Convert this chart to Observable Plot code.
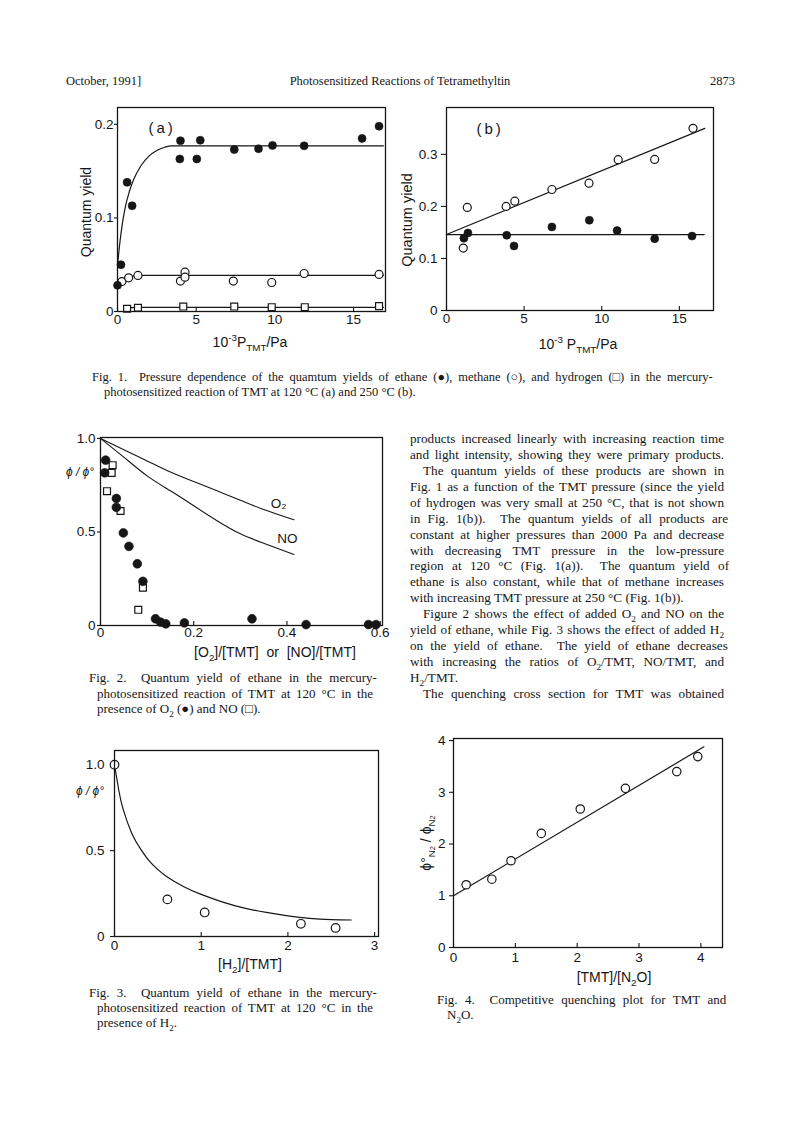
<!DOCTYPE html>
<html><head><meta charset="utf-8">
<script src="https://cdn.jsdelivr.net/npm/d3@7"></script>
<script src="https://cdn.jsdelivr.net/npm/@observablehq/plot@0.6"></script>
<style>
html,body{margin:0;padding:0;background:#fff;}
body{width:793px;height:1123px;position:relative;overflow:hidden;}
.t{position:absolute;white-space:nowrap;color:#161616;}
.serif{font-family:"Liberation Serif","DejaVu Serif",serif;}
.sans{font-family:"Liberation Sans","DejaVu Sans",sans-serif;}
sub,sup{font-size:70%;line-height:0;}
</style></head><body>
<script>
// ================= DATA =================
// Fig. 1(a)  120 °C
const f1aTicksX = [0, 5, 10, 15];
const f1aTickLabelsX = ["0", "5", "10", "15"];
const f1aTicksY = [0, 0.1, 0.2];
const f1aTickLabelsY = ["0", "0.1", "0.2"];
const f1aEthaneX = [0, 0.22, 0.61, 0.93, 3.96, 4.0, 5.04, 5.26, 7.42, 8.96, 9.85, 11.86, 15.54, 16.62];
const f1aEthaneY = [0.028, 0.050, 0.138, 0.113, 0.163, 0.1825, 0.163, 0.183, 0.173, 0.174, 0.1775, 0.177, 0.185, 0.198];
const f1aEthaneFitX = [0, 0.1, 0.25, 0.5, 0.75, 1.0, 1.5, 2.0, 2.5, 3.0, 3.42, 16.9];
const f1aEthaneFitY = [0.049, 0.066, 0.087, 0.112, 0.128, 0.140, 0.156, 0.166, 0.172, 0.1755, 0.177, 0.177];
const f1aMethaneX = [0.28, 0.71, 1.30, 4.0, 4.29, 4.29, 7.36, 9.8, 11.86, 16.62];
const f1aMethaneY = [0.032, 0.036, 0.0385, 0.0325, 0.042, 0.0367, 0.0325, 0.031, 0.0406, 0.0396];
const f1aMethaneFitX = [0.2, 0.5, 0.9, 1.3, 16.9];
const f1aMethaneFitY = [0.031, 0.035, 0.0375, 0.0385, 0.0385];
const f1aHydrogenX = [0.61, 1.3, 4.18, 7.42, 9.8, 11.9, 16.62];
const f1aHydrogenY = [0.0029, 0.004, 0.0053, 0.0053, 0.0046, 0.0046, 0.0057];
const f1aHydrogenFitX = [0.5, 1.2, 16.9];
const f1aHydrogenFitY = [0.0035, 0.0044, 0.0045];

// Fig. 1(b)  250 °C
const f1bTicksX = [0, 5, 10, 15];
const f1bTickLabelsX = ["0", "5", "10", "15"];
const f1bTicksY = [0, 0.1, 0.2, 0.3];
const f1bTickLabelsY = ["0", "0.1", "0.2", "0.3"];
const f1bMethaneX = [1.08, 1.34, 3.84, 4.40, 6.79, 9.18, 11.06, 13.41, 15.88];
const f1bMethaneY = [0.120, 0.198, 0.200, 0.210, 0.2325, 0.2447, 0.2897, 0.2903, 0.350];
const f1bMethaneFitX = [0, 16.64];
const f1bMethaneFitY = [0.146, 0.350];
const f1bEthaneX = [1.12, 1.38, 3.88, 4.35, 6.79, 9.2, 10.99, 13.41, 15.82];
const f1bEthaneY = [0.139, 0.149, 0.1445, 0.124, 0.1606, 0.1734, 0.1535, 0.138, 0.143];
const f1bEthaneFitX = [0, 16.6];
const f1bEthaneFitY = [0.1458, 0.1458];

// Fig. 2  O2 / NO
const f2TicksX = [0, 0.2, 0.4, 0.6];
const f2TickLabelsX = ["0", "0.2", "0.4", "0.6"];
const f2TicksY = [0, 0.5, 1.0];
const f2TickLabelsY = ["0", "0.5", "1.0"];
const f2O2X = [0.011, 0.009, 0.034, 0.034, 0.049, 0.061, 0.079, 0.091, 0.118, 0.129, 0.140, 0.180, 0.325, 0.441, 0.575, 0.591];
const f2O2Y = [0.884, 0.816, 0.679, 0.632, 0.495, 0.423, 0.330, 0.236, 0.036, 0.018, 0.009, 0.014, 0.036, 0.005, 0.005, 0.005];
const f2NOX = [0.026, 0.024, 0.014, 0.043, 0.091, 0.081];
const f2NOY = [0.857, 0.816, 0.718, 0.612, 0.202, 0.084];
const f2O2CurveX = [0, 0.05, 0.1, 0.15, 0.2, 0.25, 0.3, 0.35, 0.415];
const f2O2CurveY = [1.0, 0.94, 0.88, 0.82, 0.77, 0.72, 0.67, 0.62, 0.565];
const f2NOCurveX = [0, 0.05, 0.1, 0.15, 0.2, 0.25, 0.3, 0.35, 0.415];
const f2NOCurveY = [1.0, 0.9, 0.8, 0.72, 0.64, 0.56, 0.49, 0.44, 0.38];
const f2CurveLabels = ["O₂", "NO"];
const f2CurveLabelX = [0.382, 0.401];
const f2CurveLabelY = [0.652, 0.465];

// Fig. 3  H2
const f3TicksX = [0, 1, 2, 3];
const f3TickLabelsX = ["0", "1", "2", "3"];
const f3TicksY = [0, 0.5, 1.0];
const f3TickLabelsY = ["0", "0.5", "1.0"];
const f3X = [0, 0.61, 1.04, 2.15, 2.55];
const f3Y = [1.0, 0.216, 0.14, 0.074, 0.05];
const f3CurveX = [0, 0.05, 0.1, 0.2, 0.3, 0.4, 0.5, 0.6, 0.8, 1.0, 1.25, 1.5, 1.75, 2.0, 2.25, 2.5, 2.73];
const f3CurveY = [1.0, 0.85, 0.74, 0.6, 0.51, 0.44, 0.39, 0.35, 0.29, 0.245, 0.2, 0.165, 0.14, 0.12, 0.105, 0.098, 0.096];

// Fig. 4  competitive quenching
const f4TicksX = [0, 1, 2, 3, 4];
const f4TickLabelsX = ["0", "1", "2", "3", "4"];
const f4TicksY = [0, 1, 2, 3, 4];
const f4TickLabelsY = ["0", "1", "2", "3", "4"];
const f4X = [0.205, 0.62, 0.93, 1.42, 2.05, 2.78, 3.61, 3.95];
const f4Y = [1.213, 1.32, 1.677, 2.206, 2.677, 3.077, 3.40, 3.69];
const f4FitX = [0, 4.05];
const f4FitY = [1.0, 3.88];

// ================= HELPERS =================
const INK = "#161616";
const pts = (xs, ys) => xs.map((x, i) => ({x, y: ys[i]}));

function place(html, o) {
  const d = document.createElement("div");
  d.className = "t " + (o.family || "serif");
  d.innerHTML = html;
  const size = o.size || 13;
  d.style.fontSize = size + "px";
  d.style.lineHeight = size + "px";
  if (o.italic) d.style.fontStyle = "italic";
  if (o.spacing) d.style.letterSpacing = o.spacing + "px";
  document.body.appendChild(d);
  let w = d.getBoundingClientRect().width;
  if (o.justify) {
    const n = (d.textContent.match(/ /g) || []).length;
    if (n) d.style.wordSpacing = ((o.justify - w) / n) + "px";
    w = o.justify;
  }
  if (o.rotate) {
    d.style.left = o.x + "px"; d.style.top = o.y + "px";
    d.style.transform = "translate(-50%,-50%) rotate(-90deg)";
    return d;
  }
  let left = o.x;
  if (o.anchor === "middle") left = o.x - w / 2;
  else if (o.anchor === "end") left = o.x - w;
  d.style.left = left + "px";
  d.style.top = (o.y - 0.58 * size) + "px";
  return d;
}

function chart(o) {
  const mL = 60, mR = 14, mT = 14, mB = 40;
  const [l, t, r, b] = o.frame;
  const fw = r - l, fh = b - t;
  const xl = new Map(o.xTicks.map((v, i) => [v, o.xLabels[i]]));
  const yl = new Map(o.yTicks.map((v, i) => [v, o.yLabels[i]]));
  const svg = Plot.plot({
    width: fw + mL + mR, height: fh + mT + mB,
    marginLeft: mL, marginRight: mR, marginTop: mT, marginBottom: mB,
    x: {domain: o.xDomain, axis: null},
    y: {domain: o.yDomain, axis: null},
    style: {fontFamily: '"Liberation Sans","DejaVu Sans",sans-serif', fontSize: "13.5px", color: INK, background: "transparent", overflow: "visible"},
    marks: [
      Plot.axisX({ticks: o.xTicks, tickFormat: d => xl.get(d), tickSize: 0, tickPadding: o.xPad, label: null, fontSize: 13.5}),
      Plot.ruleX(o.xTicks, {x: d => d, insetTop: fh - 4, stroke: INK, strokeWidth: 1.1}),
      Plot.axisY({ticks: o.yTicks, tickFormat: d => yl.get(d), tickSize: o.ySize, tickPadding: o.yPad, label: null, strokeWidth: 1.1, fontSize: 13.5}),
      ...o.marks,
      Plot.frame({stroke: INK, strokeWidth: 1.3})
    ]
  });
  svg.style.position = "absolute";
  svg.style.left = (l - mL) + "px";
  svg.style.top = (t - mT) + "px";
  document.body.appendChild(svg);
}
const filled = (p, r = 4) => Plot.dot(p, {x: "x", y: "y", r, fill: INK, stroke: INK, strokeWidth: 0.6});
const open = (p, r = 4) => Plot.dot(p, {x: "x", y: "y", r, fill: "white", stroke: INK, strokeWidth: 1.2});
const square = (p, r = 3.9) => Plot.dot(p, {x: "x", y: "y", r, symbol: "square", fill: "white", stroke: INK, strokeWidth: 1.2});
const fit = (p, curve = "linear", w = 1.2) => Plot.line(p, {x: "x", y: "y", curve, stroke: INK, strokeWidth: w});

// ================= PAGE HEADER =================
place("October, 1991]", {x: 66, y: 82, size: 12.5});
place("Photosensitized Reactions of Tetramethyltin", {x: 400, y: 82, size: 12.5, anchor: "middle"});
place("2873", {x: 735, y: 82, size: 12.5, anchor: "end"});

// ================= FIG 1(a) =================
chart({
  frame: [117, 107, 385, 311], xDomain: [0, 17.03], yDomain: [0, 0.218],
  xTicks: f1aTicksX, xLabels: f1aTickLabelsX, yTicks: f1aTicksY, yLabels: f1aTickLabelsY,
  xPad: 3, yPad: 1, ySize: 3,
  marks: [
    fit(pts(f1aEthaneFitX, f1aEthaneFitY), "monotone-x"),
    fit(pts(f1aMethaneFitX, f1aMethaneFitY), "monotone-x"),
    fit(pts(f1aHydrogenFitX, f1aHydrogenFitY), "monotone-x"),
    square(pts(f1aHydrogenX, f1aHydrogenY)),
    open(pts(f1aMethaneX, f1aMethaneY)),
    filled(pts(f1aEthaneX, f1aEthaneY)),
    Plot.text(["(\u2009a\u2009)"], {frameAnchor: "top-left", dx: 31, dy: 15, fontSize: 15})
  ]
});
place("Quantum yield", {x: 86, y: 212, size: 14, family: "sans", rotate: true});
place("10<sup>-3</sup>P<sub>TMT</sub>/Pa", {x: 250, y: 343, size: 14, family: "sans", anchor: "middle"});

// ================= FIG 1(b) =================
chart({
  frame: [446, 107, 713, 310], xDomain: [0, 17.2], yDomain: [0, 0.39],
  xTicks: f1bTicksX, xLabels: f1bTickLabelsX, yTicks: f1bTicksY, yLabels: f1bTickLabelsY,
  xPad: 3, yPad: 4, ySize: 5,
  marks: [
    fit(pts(f1bMethaneFitX, f1bMethaneFitY)),
    fit(pts(f1bEthaneFitX, f1bEthaneFitY)),
    open(pts(f1bMethaneX, f1bMethaneY)),
    filled(pts(f1bEthaneX, f1bEthaneY)),
    Plot.text(["(\u2009b\u2009)"], {frameAnchor: "top-left", dx: 30, dy: 16, fontSize: 15})
  ]
});
place("Quantum yield", {x: 407, y: 220, size: 14.5, family: "sans", rotate: true});
place("10<sup>-3</sup> P<sub>TMT</sub>/Pa", {x: 578, y: 345, size: 14, family: "sans", anchor: "middle"});

// Fig 1 caption
place("Fig. 1.&nbsp; Pressure dependence of the quamtum yields of ethane (●), methane (○), and hydrogen (□) in the mercury-", {x: 92, y: 378.5, size: 12.5, justify: 618});
place("photosensitized reaction of TMT at 120 °C (a) and 250 °C (b).", {x: 104, y: 393, size: 12.5});

// ================= FIG 2 =================
chart({
  frame: [100, 437, 382, 625], xDomain: [0, 0.605], yDomain: [0, 1.005],
  xTicks: f2TicksX, xLabels: f2TickLabelsX, yTicks: f2TicksY, yLabels: f2TickLabelsY,
  xPad: 2, yPad: 2, ySize: 3,
  marks: [
    fit(pts(f2O2CurveX, f2O2CurveY), "natural", 1.1),
    fit(pts(f2NOCurveX, f2NOCurveY), "natural", 1.1),
    Plot.text(f2CurveLabels, {x: (d, i) => f2CurveLabelX[i], y: (d, i) => f2CurveLabelY[i], fontSize: 13.5}),
    square(pts(f2NOX, f2NOY)),
    filled(pts(f2O2X, f2O2Y), 4.4)
  ]
});
place("ϕ / ϕ°", {x: 80, y: 473, size: 12, family: "sans", italic: true, anchor: "middle"});
place("[O<sub>2</sub>]/[TMT]&nbsp; or&nbsp; [NO]/[TMT]", {x: 275, y: 653, size: 14, family: "sans", anchor: "middle"});

place("Fig. 2.&nbsp; Quantum yield of ethane in the mercury-", {x: 89, y: 679, size: 13, justify: 284});
place("photosensitized reaction of TMT at 120 °C in the", {x: 97, y: 694.5, size: 13, justify: 276});
place("presence of O<sub>2</sub> (●) and NO (□).", {x: 97, y: 710, size: 13});

// ================= FIG 3 =================
chart({
  frame: [114, 750, 378, 936], xDomain: [0, 3.045], yDomain: [0, 1.083],
  xTicks: f3TicksX, xLabels: f3TickLabelsX, yTicks: f3TicksY, yLabels: f3TickLabelsY,
  xPad: 4, yPad: 6, ySize: 4,
  marks: [
    fit(pts(f3CurveX, f3CurveY), "natural", 1.2),
    open(pts(f3X, f3Y), 4.3)
  ]
});
place("ϕ / ϕ°", {x: 90, y: 792, size: 12, family: "sans", italic: true, anchor: "middle"});
place("[H<sub>2</sub>]/[TMT]", {x: 250, y: 965, size: 14, family: "sans", anchor: "middle"});

place("Fig. 3.&nbsp; Quantum yield of ethane in the mercury-", {x: 89, y: 994, size: 13, justify: 284});
place("photosensitized reaction of TMT at 120 °C in the", {x: 97, y: 1009, size: 13, justify: 276});
place("presence of H<sub>2</sub>.", {x: 97, y: 1024, size: 13});

// ================= FIG 4 =================
chart({
  frame: [453, 738, 722, 947], xDomain: [0, 4.35], yDomain: [0, 4.04],
  xTicks: f4TicksX, xLabels: f4TickLabelsX, yTicks: f4TicksY, yLabels: f4TickLabelsY,
  xPad: 5, yPad: 4, ySize: 4,
  marks: [
    fit(pts(f4FitX, f4FitY)),
    open(pts(f4X, f4Y), 4.2)
  ]
});
place("ϕ°<sub>N<span style=\"font-size:75%\">2</span></sub> / ϕ<sub>N<span style=\"font-size:75%\">2</span></sub>", {x: 426, y: 843, size: 14, family: "sans", rotate: true});
place("[TMT]/[N<sub>2</sub>O]", {x: 614, y: 978, size: 14, family: "sans", anchor: "middle"});

place("Fig. 4.&nbsp; Competitive quenching plot for TMT and", {x: 437, y: 1001, size: 13, justify: 285});
place("N<sub>2</sub>O.", {x: 447, y: 1016, size: 13});

// ================= BODY TEXT (right column) =================
const bodyLines = [
  ["products increased linearly with increasing reaction time", 0, true],
  ["and light intensity, showing they were primary products.", 0, true],
  ["The quantum yields of these products are shown in", 13, true],
  ["Fig. 1 as a function of the TMT pressure (since the yield", 0, true],
  ["of hydrogen was very small at 250 °C, that is not shown", 0, true],
  ["in Fig. 1(b)).&nbsp; The quantum yields of all products are", 0, true],
  ["constant at higher pressures than 2000 Pa and decrease", 0, true],
  ["with decreasing TMT pressure in the low-pressure", 0, true],
  ["region at 120 °C (Fig. 1(a)).&nbsp; The quantum yield of", 0, true],
  ["ethane is also constant, while that of methane increases", 0, true],
  ["with increasing TMT pressure at 250 °C (Fig. 1(b)).", 0, false],
  ["Figure 2 shows the effect of added O<sub>2</sub> and NO on the", 13, true],
  ["yield of ethane, while Fig. 3 shows the effect of added H<sub>2</sub>", 0, true],
  ["on the yield of ethane.&nbsp; The yield of ethane decreases", 0, true],
  ["with increasing the ratios of O<sub>2</sub>/TMT, NO/TMT, and", 0, true],
  ["H<sub>2</sub>/TMT.", 0, false],
  ["The quenching cross section for TMT was obtained", 13, true]
];
bodyLines.forEach(([txt, ind, just], i) => {
  place(txt, {x: 410 + ind, y: 440 + 15.89 * i, size: 13.2, justify: just ? 314 - ind : null});
});
</script>
</body></html>
